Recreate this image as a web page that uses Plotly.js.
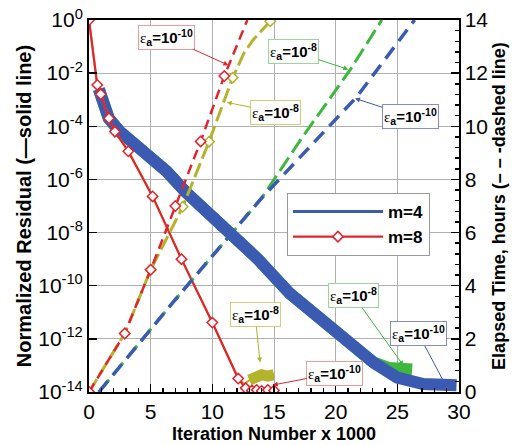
<!DOCTYPE html>
<html><head><meta charset="utf-8">
<script src="https://cdn.plot.ly/plotly-3.0.1.min.js"></script>
<style>html,body{margin:0;padding:0;background:#fff}#chart{width:520px;height:445px}</style>
</head><body><div id="chart"></div>
<script>
// ---- data (iterations in thousands) ----
// m=4, eps_a=1e-10 : residual (solid) and elapsed time (dashed)
const blueResX = [0.8, 1.0, 1.6, 2.5, 3.6, 5.0, 6.3, 7.8, 9.5, 11.3, 13.7, 16.3, 19.5, 21.7, 23.1, 25.0, 27.1, 29.8];
const blueResY = [2.5e-3, 1e-3, 2e-4, 6.3e-5, 2.5e-5, 6.3e-6, 2e-6, 3.5e-7, 7e-8, 1.25e-8, 1e-9, 5e-11, 3.2e-12, 4e-13, 1.26e-13, 3.5e-14, 2e-14, 1.8e-14];
const blueTimeX = [0.8, 6.84, 14.0, 19.14, 21.7, 26.4];
const blueTimeY = [0, 3.39, 7.3, 9.86, 11.1, 14.0];
// m=4, eps_a=1e-8
const greenResX = [0.8, 1.0, 1.6, 2.5, 3.6, 5.0, 6.3, 7.8, 9.5, 11.3, 13.7, 16.3, 19.5, 21.7, 23.1, 24.3, 25.3, 26.2];
const greenResY = [2.5e-3, 1e-3, 2e-4, 6.3e-5, 2.5e-5, 6.3e-6, 2e-6, 3.5e-7, 7e-8, 1.25e-8, 1e-9, 5e-11, 3.2e-12, 4e-13, 1.26e-13, 8e-14, 7.5e-14, 7e-14];
const greenTimeX = [0.8, 6.84, 14.0, 17.24, 21.17, 23.74];
const greenTimeY = [0, 3.39, 7.3, 9.55, 12.12, 14.0];
// m=8, eps_a=1e-10
const redResX = [0, 0.67, 0.95, 1.62, 2.1, 3.19, 5.16, 7.5, 10.0, 12.1, 12.7, 13.2, 13.6, 14.0, 14.5, 15.0];
const redResY = [1, 3.6e-3, 1.6e-3, 2.0e-4, 6.3e-5, 1.15e-5, 2.3e-7, 1.0e-9, 4.1e-12, 3.2e-14, 1.4e-14, 1.15e-14, 1.2e-14, 1.1e-14, 1.2e-14, 1.15e-14];
const redTimeX = [0, 2.9, 5.0, 7.0, 9.05, 10.97, 12.84];
const redTimeY = [0, 2.2, 4.6, 7.0, 9.43, 11.89, 14.0];
// m=8, eps_a=1e-8
const oliveResX = [0, 0.67, 0.95, 1.62, 2.1, 3.19, 5.16, 7.5, 10.0, 12.1, 12.6, 13.0, 13.5, 14.0, 14.5, 15.0];
const oliveResY = [1, 3.6e-3, 1.6e-3, 2.0e-4, 6.3e-5, 1.15e-5, 2.3e-7, 1.0e-9, 4.1e-12, 3.2e-14, 2e-14, 2.8e-14, 3.5e-14, 4.5e-14, 4e-14, 4.5e-14];
const oliveTimeX = [0, 2.9, 5.0, 7.6, 9.73, 11.65, 12.57, 13.3, 14.7];
const oliveTimeY = [0, 2.2, 4.6, 6.97, 9.42, 11.83, 12.76, 13.25, 13.95];

const yTickVals = [1e-14, 1e-12, 1e-10, 1e-8, 1e-6, 1e-4, 1e-2, 1];
const yTickText = ['10<sup>-14</sup>', '10<sup>-12</sup>', '10<sup>-10</sup>', '10<sup>-8</sup>', '10<sup>-6</sup>', '10<sup>-4</sup>', '10<sup>-2</sup>', '10<sup>0</sup>'];
const legendNames = ['m=4', 'm=8'];

// ---- styles ----
const C = {blue: '#3b5bb3', green: '#3db83d', red: '#e2242c', olive: '#b3b32c'};
const CB = {blue: '#8a8ad0', green: '#9ad69a', red: '#f09a9a', olive: '#d0d07a'};
const FONT = 'Liberation Sans, Arial, Helvetica, sans-serif';

const diamond = (col) => ({symbol: 'diamond', size: 8, color: '#fff', line: {color: col, width: 1.5}});
const tailStart = oliveResX.indexOf(13.0);
const oliveMarkIdx = (i) => i !== 6 && i !== 7;

const traces = [
  {x: greenResX, y: greenResY, mode: 'lines', line: {color: C.green, width: 12}, showlegend: false},
  {x: blueResX, y: blueResY, mode: 'lines', line: {color: C.blue, width: 12}, showlegend: false},
  {x: oliveResX, y: oliveResY, mode: 'lines', line: {color: C.olive, width: 2}, showlegend: false},
  {x: oliveResX.slice(tailStart), y: oliveResY.slice(tailStart), mode: 'lines', line: {color: C.olive, width: 11}, showlegend: false},
  {x: [null], y: [null], mode: 'lines', name: legendNames[0], line: {color: C.blue, width: 3}, showlegend: true},
  {x: redResX, y: redResY, mode: 'lines+markers', name: legendNames[1], line: {color: C.red, width: 2.2}, marker: diamond(C.red)},
  // elapsed time (dashed) on right axis
  {x: greenTimeX, y: greenTimeY, yaxis: 'y2', mode: 'lines', line: {color: C.green, width: 3, dash: '16px,6px'}, showlegend: false},
  {x: blueTimeX, y: blueTimeY, yaxis: 'y2', mode: 'lines', line: {color: C.blue, width: 3.5, dash: '14px,8px'}, showlegend: false},
  {x: oliveTimeX, y: oliveTimeY, yaxis: 'y2', mode: 'lines', line: {color: C.olive, width: 3, dash: '15px,5px'}, showlegend: false},
  {x: oliveTimeX.filter((_, i) => oliveMarkIdx(i)), y: oliveTimeY.filter((_, i) => oliveMarkIdx(i)), yaxis: 'y2', mode: 'markers', marker: diamond(C.olive), showlegend: false},
  {x: redTimeX, y: redTimeY, yaxis: 'y2', mode: 'lines', line: {color: C.red, width: 2.5, dash: '10px,6px'}, showlegend: false},
  {x: redTimeX.slice(0, 6), y: redTimeY.slice(0, 6), yaxis: 'y2', mode: 'markers', marker: diamond(C.red), showlegend: false}
];

const eps = (exp) => '<span style="font-family:\'Liberation Serif\',serif;font-weight:normal">ε</span><sub>a</sub>=10<sup>' + exp + '</sup>';
function ann(x, y, yref, ax, ay, exp, key) {
  return {x: x, y: y, xref: 'x', yref: yref, ax: ax, ay: ay, text: eps(exp), showarrow: true,
    arrowhead: 2, arrowsize: 1, arrowwidth: 1, arrowcolor: C[key],
    font: {family: FONT, size: 15, color: '#000', weight: 700},
    bgcolor: '#fff', bordercolor: CB[key], borderwidth: 1, borderpad: 1};
}
const annotations = [
  ann(11.3, 12.3, 'y2', -62, -28, '-10', 'red'),
  ann(11.17, 10.9, 'y2', 49, 10, '-8', 'olive'),
  ann(21.03, 12.14, 'y2', -55, -18, '-8', 'green'),
  ann(21.57, 11.05, 'y2', 55, 18, '-10', 'blue'),
  ann(13.87, -12.89, 'y', -5, -48, '-8', 'olive'),
  ann(14.9, -13.74, 'y', 62, -12, '-10', 'red'),
  ann(25.5, -13.01, 'y', -50, -70, '-8', 'green'),
  ann(28.9, -13.73, 'y', -27, -51, '-10', 'blue')
];

const layout = {
  width: 520, height: 445,
  margin: {l: 89, r: 61, t: 20, b: 53},
  paper_bgcolor: '#fff', plot_bgcolor: '#fff',
  font: {family: FONT, color: '#000'},
  showlegend: true,
  legend: {x: 0.535, y: 0.535, xanchor: 'left', yanchor: 'top', bgcolor: '#fff', bordercolor: '#999', borderwidth: 1,
           font: {family: FONT, size: 17, weight: 700}, itemwidth: 90, traceorder: 'normal'},
  xaxis: {range: [0, 30], dtick: 5, tick0: 0, ticks: 'inside', ticklen: 8, tickwidth: 1.5, tickcolor: '#000',
          minor: {dtick: 1, ticks: 'inside', ticklen: 4, tickcolor: '#000'},
          showgrid: true, gridcolor: '#b0b0b0', gridwidth: 1, zeroline: false,
          showline: true, linewidth: 2, linecolor: '#000', mirror: true,
          tickfont: {size: 21, family: FONT},
          title: {text: 'Iteration Number x 1000', font: {size: 18, weight: 700, family: FONT}, standoff: 5}},
  yaxis: {type: 'log', range: [-14, 0], tickmode: 'array', tickvals: yTickVals, ticktext: yTickText,
          ticks: 'inside', ticklen: 8, tickwidth: 1.5, tickcolor: '#000',
          showgrid: true, gridcolor: '#b0b0b0', gridwidth: 1, zeroline: false,
          showline: true, linewidth: 2, linecolor: '#000', mirror: true,
          tickfont: {size: 21, family: FONT},
          title: {text: 'Normalized Residual (—solid line)', font: {size: 20, weight: 700, family: FONT}, standoff: 1}},
  yaxis2: {overlaying: 'y', side: 'right', range: [0, 14], dtick: 2, tick0: 0,
           ticks: 'inside', ticklen: 8, tickwidth: 1.5, tickcolor: '#000',
           minor: {dtick: 0.4, ticks: 'inside', ticklen: 4, tickcolor: '#000'},
           showgrid: false, zeroline: false, showline: true, linewidth: 1.5, linecolor: '#000',
           tickfont: {size: 21, family: FONT},
           title: {text: 'Elapsed Time, hours (– – -dashed line)', font: {size: 18, weight: 700, family: FONT}, standoff: 5}},
  annotations: annotations
};

Plotly.newPlot('chart', traces, layout, {staticPlot: true, displayModeBar: false});
</script></body></html>
